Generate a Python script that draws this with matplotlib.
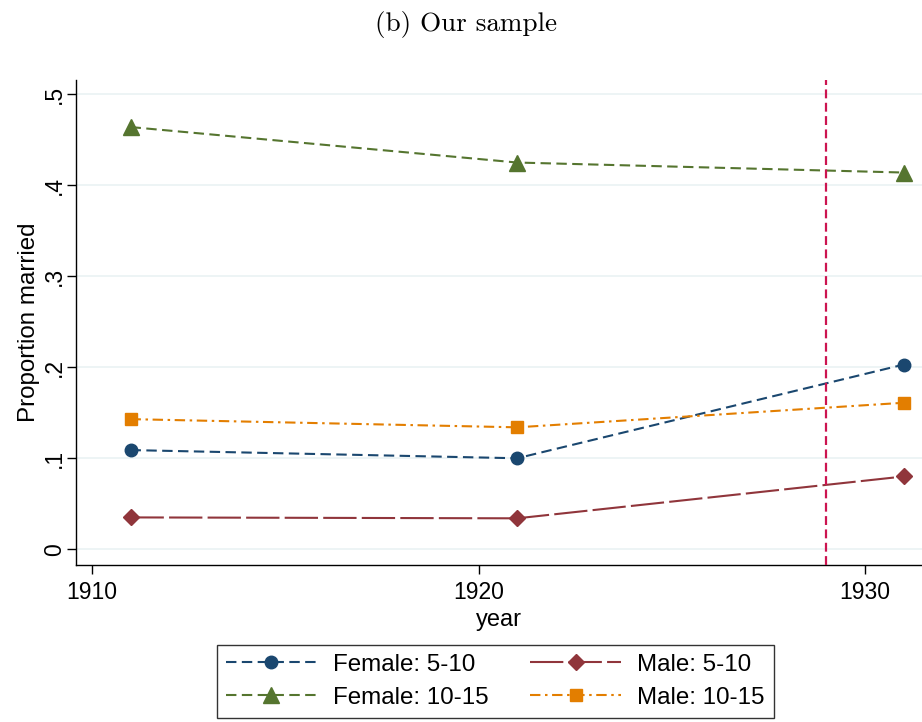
import matplotlib
matplotlib.use("Agg")
import matplotlib.pyplot as plt

# ---- data ----
years = [1911, 1921, 1931]
female_5_10 = [0.109, 0.100, 0.203]
female_10_15 = [0.464, 0.425, 0.414]
male_5_10 = [0.035, 0.034, 0.080]
male_10_15 = [0.143, 0.134, 0.161]
cutoff_year = 1929
x_ticks = [1910, 1920, 1930]
y_ticks = [0, 0.1, 0.2, 0.3, 0.4, 0.5]
y_ticklabels = ["0", ".1", ".2", ".3", ".4", ".5"]

plt.rcParams['font.family'] = ['Liberation Sans', 'DejaVu Sans']
FS = 16.5
FL = 17.4

W, H = 922, 722
fig = plt.figure(figsize=(W / 100, H / 100), dpi=100)
fig.patch.set_facecolor('white')
ax = fig.add_axes([76 / W, 1 - 565 / H, (922 - 76) / W, (565 - 80) / H])

navy = '#1a476f'
maroon = '#90353b'
green = '#55752f'
orange = '#e37e00'
red = '#cc1450'

lw = 1.5
ax.plot(years, female_5_10, color=navy, lw=lw, linestyle=(0, (5, 2.6)),
        marker='o', markersize=9, label='Female: 5-10', zorder=3)
ax.plot(years, female_10_15, color=green, lw=lw, linestyle=(0, (5, 2.6)),
        marker='^', markersize=11.5, label='Female: 10-15', zorder=3)
ax.plot(years, male_5_10, color=maroon, lw=lw, linestyle=(0, (16, 2.5)),
        marker='D', markersize=8.5, label='Male: 5-10', zorder=3)
ax.plot(years, male_10_15, color=orange, lw=lw, linestyle=(0, (5, 2.2, 1.2, 2.2)),
        marker='s', markersize=8.5, label='Male: 10-15', zorder=3)

ax.axvline(cutoff_year, color=red, lw=1.6, linestyle=(0, (4, 2)), zorder=4)

ax.set_xlim(1909.59, 1931.47)
ax.set_ylim(-0.0173, 0.5157)
ax.set_xticks(x_ticks)
ax.set_xticklabels([str(t) for t in x_ticks])
ax.set_yticks(y_ticks)
ax.set_yticklabels(y_ticklabels)
for lab in ax.get_yticklabels():
    lab.set_rotation(90)
    lab.set_va('center')

ax.yaxis.grid(True, color='#eaf2f3', lw=1.2, zorder=0)
ax.set_axisbelow(True)
for s in ['top', 'right']:
    ax.spines[s].set_visible(False)
for s in ['left', 'bottom']:
    ax.spines[s].set_linewidth(1.0)
    ax.spines[s].set_color('black')
ax.tick_params(axis='both', direction='out', length=6.5, width=1.0,
               labelsize=FS, colors='black')
ax.tick_params(axis='x', pad=5)
ax.tick_params(axis='y', pad=0.5)

ax.set_xlabel('year', fontsize=17, labelpad=3.5)
ax.set_ylabel('Proportion married', fontsize=FL, labelpad=2)

fig.text(466 / W, 1 - 24 / H, '(b) Our sample', fontsize=19.5, family='cmr10',
         ha='center', va='center')

h, l = ax.get_legend_handles_labels()
leg = fig.legend(h, l, loc='upper left', bbox_to_anchor=(217 / W, 1 - 645 / H),
                 borderaxespad=0, ncol=2, fontsize=FL, frameon=True, fancybox=False,
                 edgecolor='black', handlelength=3.76, handletextpad=0.66,
                 columnspacing=1.74, labelspacing=0.45, borderpad=0.37)
leg.get_frame().set_linewidth(1.0)

fig.savefig('out.png', dpi=100)
